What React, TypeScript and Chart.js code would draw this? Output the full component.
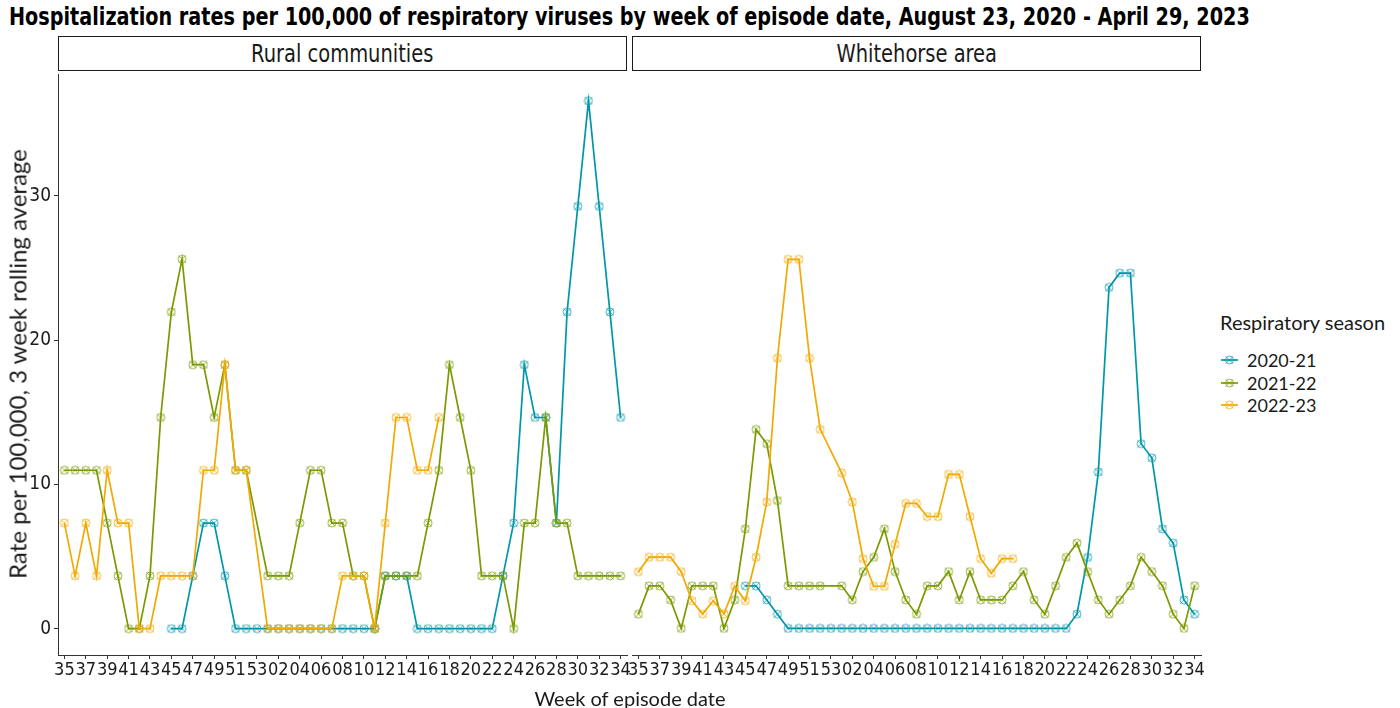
import React, { useEffect, useRef } from "react";
import { Chart, registerables } from "chart.js";

Chart.register(...registerables);

// ---------- data ----------
const WEEKS = [
  "35", "36", "37", "38", "39", "40", "41", "42", "43", "44", "45", "46", "47", "48", "49", "50", "51", "52", "53",
  "01", "02", "03", "04", "05", "06", "07", "08", "09", "10", "11", "12", "13", "14", "15", "16", "17", "18", "19",
  "20", "21", "22", "23", "24", "25", "26", "27", "28", "29", "30", "31", "32", "33", "34",
];
const X_TICK_LABELS = [
  "35", "37", "39", "41", "43", "45", "47", "49", "51", "53", "02", "04", "06", "08",
  "10", "12", "14", "16", "18", "20", "22", "24", "26", "28", "30", "32", "34",
];
const Y_TICKS = [0, 10, 20, 30];
const SEASONS = ["2020-21", "2021-22", "2022-23"];
const COLORS = ["#0097A9", "#7A9A01", "#F2A900"];
const PANELS = ["Rural communities", "Whitehorse area"];

const N = null;

const RURAL_2020_21 = [
  N, N, N, N, N, N, N, N, N, N,
  0, 0, 3.66, 7.32, 7.32, 3.66, 0, 0, 0,
  0, 0, 0, 0, 0, 0, 0, 0, 0, 0, 0,
  3.66, 3.66, 3.66,
  0, 0, 0, 0, 0, 0, 0, 0,
  3.66, 7.32, 18.3, 14.64, 14.64, 7.32, 21.96, 29.28, 36.6, 29.28, 21.96, 14.64,
];
const RURAL_2021_22 = [
  10.98, 10.98, 10.98, 10.98, 7.32, 3.66, 0, 0, 3.66, 14.64,
  21.96, 25.62, 18.3, 18.3, 14.64, 18.3, 10.98, 10.98, N,
  3.66, 3.66, 3.66, 7.32, 10.98, 10.98, 7.32, 7.32, 3.66, 3.66,
  0, 3.66, 3.66, 3.66, 3.66, 7.32, 10.98, 18.3, 14.64, 10.98,
  3.66, 3.66, 3.66, 0, 7.32, 7.32, 14.64, 7.32, 7.32,
  3.66, 3.66, 3.66, 3.66, 3.66,
];
const RURAL_2022_23 = [
  7.32, 3.66, 7.32, 3.66, 10.98, 7.32, 7.32, 0, 0, 3.66,
  3.66, 3.66, 3.66, 10.98, 10.98, 18.3, 10.98, 10.98, N,
  0, 0, 0, 0, 0, 0, 0, 3.66, 3.66, 3.66,
  0, 7.32, 14.64, 14.64, 10.98, 10.98, 14.64,
  N, N, N, N, N, N, N, N, N, N, N, N, N, N, N, N, N,
];
const WH_2020_21 = [
  N, N, N, N, N, N, N, N, N, N,
  2.93, 2.93, 1.96, 0.98, 0, 0, 0, 0, 0,
  0, 0, 0, 0, 0, 0, 0, 0, 0, 0, 0, 0, 0, 0, 0, 0, 0, 0, 0, 0, 0, 0,
  0.98, 4.89, 10.76, 23.47, 24.45, 24.45, 12.71, 11.74, 6.85, 5.87, 1.96, 0.98,
];
const WH_2021_22 = [
  0.98, 2.93, 2.93, 1.96, 0, 2.93, 2.93, 2.93, 0, 1.96,
  6.85, 13.69, 12.71, 8.8, 2.93, 2.93, 2.93, 2.93, N,
  2.93, 1.96, 3.91, 4.89, 6.85, 3.91, 1.96, 0.98, 2.93, 2.93,
  3.91, 1.96, 3.91, 1.96, 1.96, 1.96, 2.93, 3.91, 1.96, 0.98,
  2.93, 4.89, 5.87, 3.91, 1.96, 0.98, 1.96, 2.93, 4.89, 3.91,
  2.93, 0.98, 0, 2.93,
];
const WH_2022_23 = [
  3.9, 4.9, 4.9, 4.9, 3.9, 1.9, 1.0, 1.9, 1.0, 2.9,
  1.9, 4.9, 8.7, 18.6, 25.4, 25.4, 18.6, 13.7, N,
  10.7, 8.7, 4.8, 2.9, 2.9, 5.8, 8.6, 8.6, 7.7, 7.7,
  10.6, 10.6, 7.7, 4.8, 3.8, 4.8, 4.8,
  N, N, N, N, N, N, N, N, N, N, N, N, N, N, N, N, N,
];

const RURAL = [RURAL_2020_21, RURAL_2021_22, RURAL_2022_23];
const WHITEHORSE = [WH_2020_21, WH_2021_22, WH_2022_23];

// ---------- style ----------
const COND = '"DejaVu Sans Condensed", "DejaVu Sans", sans-serif';
const SANS = 'Lato, "Noto Sans", sans-serif';
const TEXT = "#1a1a1a";
const AXIS = "#333333";
const Y_MIN = -1.83;
const Y_MAX = 38.43;

function makeMarker(color: string): HTMLCanvasElement {
  const c = document.createElement("canvas");
  c.width = 10;
  c.height = 10;
  const ctx = c.getContext("2d")!;
  ctx.strokeStyle = color;
  ctx.globalAlpha = 0.7;
  ctx.lineWidth = 1;
  ctx.beginPath();
  ctx.arc(5, 5, 4, 0, Math.PI * 2);
  ctx.stroke();
  ctx.beginPath();
  ctx.moveTo(1.5, 1.5);
  ctx.lineTo(8.5, 8.5);
  ctx.moveTo(8.5, 1.5);
  ctx.lineTo(1.5, 8.5);
  ctx.stroke();
  return c;
}

type PanelProps = {
  series: (number | null)[][];
  showY: boolean;
  left: number;
  width: number;
  padLeft: number;
  padRight: number;
};

function Panel({ series, showY, left, width, padLeft, padRight }: PanelProps) {
  const ref = useRef<HTMLCanvasElement>(null);
  useEffect(() => {
    const markers = COLORS.map(makeMarker);
    const chart = new Chart(ref.current!, {
      type: "line",
      data: {
        datasets: SEASONS.map((s, k) => ({
          label: s,
          data: series[k]
            .map((v, i) => ({ x: i, y: v }))
            .filter((p) => p.y !== null) as any,
          borderColor: COLORS[k],
          backgroundColor: COLORS[k],
          borderWidth: 1.7,
          pointStyle: markers[k] as any,
          pointRadius: 4,
          pointHoverRadius: 4,
          tension: 0,
          fill: false,
          clip: false as any,
          order: 2 - k,
        })),
      },
      options: {
        animation: false,
        responsive: false,
        maintainAspectRatio: false,
        events: [],
        layout: {
          padding: { top: 10, right: padRight, left: padLeft, bottom: 0 },
          autoPadding: false,
        } as any,
        plugins: { legend: { display: false }, tooltip: { enabled: false } },
        scales: {
          x: {
            type: "linear",
            min: -0.6,
            max: 52.6,
            afterBuildTicks: (scale: any) => {
              scale.ticks = X_TICK_LABELS.map((l) => ({ value: WEEKS.indexOf(l) }));
            },
            afterFit: (scale: any) => {
              scale.height = 45;
            },
            ticks: {
              autoSkip: false,
              maxRotation: 0,
              minRotation: 0,
              padding: 1,
              color: TEXT,
              font: { family: COND, size: 18 },
              callback: (v: any) => WEEKS[Math.round(Number(v))],
            },
            grid: { display: true, drawOnChartArea: false, drawTicks: true, tickLength: 4, color: AXIS },
            border: { display: true, color: AXIS, width: 1 },
          },
          y: {
            type: "linear",
            display: showY,
            min: Y_MIN,
            max: Y_MAX,
            afterBuildTicks: (scale: any) => {
              scale.ticks = Y_TICKS.map((v) => ({ value: v }));
            },
            afterFit: (scale: any) => {
              if (showY) scale.width = 58 - padLeft;
            },
            ticks: {
              padding: 3,
              color: TEXT,
              font: { family: COND, size: 19 },
              callback: (v: any) => String(v),
            },
            grid: { display: true, drawOnChartArea: false, drawTicks: true, tickLength: 4, color: AXIS },
            border: { display: true, color: AXIS, width: 1 },
          },
        },
      } as any,
    });
    return () => chart.destroy();
  }, []);
  return (
    <canvas
      ref={ref}
      width={width}
      height={640}
      style={{ position: "absolute", left, top: 60, width, height: 640 }}
    />
  );
}

function Strip({ left, label }: { left: number; label: string }) {
  return (
    <div
      style={{
        position: "absolute",
        left,
        top: 36,
        width: 569,
        height: 35,
        boxSizing: "border-box",
        border: "1.5px solid #1a1a1a",
        fontFamily: COND,
        fontSize: 25,
        color: TEXT,
        display: "flex",
        alignItems: "center",
        justifyContent: "center",
        whiteSpace: "nowrap",
      }}
    >
      <span style={{ display: "inline-block", transform: "scaleX(0.866)" }}>{label}</span>
    </div>
  );
}

function LegendKey({ color }: { color: string }) {
  return (
    <svg width={20} height={20} style={{ display: "block" }}>
      <line x1={1} y1={10} x2={18} y2={10} stroke={color} strokeWidth={1.7} />
      <g stroke={color} strokeOpacity={0.7} strokeWidth={1} fill="none">
        <circle cx={9.5} cy={10} r={4} />
        <line x1={6} y1={6.5} x2={13} y2={13.5} />
        <line x1={13} y1={6.5} x2={6} y2={13.5} />
      </g>
    </svg>
  );
}

export default function App() {
  return (
    <div
      style={{
        position: "fixed",
        left: 0,
        top: 0,
        width: 1400,
        height: 708,
        overflow: "hidden",
        background: "#ffffff",
      }}
    >
      <div
        style={{
          position: "absolute",
          left: 9,
          top: 2.5,
          fontFamily: COND,
          fontWeight: "bold",
          fontSize: 24,
          lineHeight: "28px",
          color: "#000",
          whiteSpace: "nowrap",
          transform: "scaleX(0.89)",
          transformOrigin: "left center",
        }}
      >
        Hospitalization rates per 100,000 of respiratory viruses by week of episode date, August 23, 2020 - April 29, 2023
      </div>

      <Strip left={58} label={PANELS[0]} />
      <Strip left={632} label={PANELS[1]} />

      <Panel series={RURAL} showY={true} left={0} width={632} padLeft={0} padRight={5} />
      <Panel series={WHITEHORSE} showY={false} left={627} width={579} padLeft={5} padRight={5} />

      <div
        style={{
          position: "absolute",
          left: 17,
          top: 364,
          transform: "translate(-50%, -50%) rotate(-90deg)",
          fontFamily: SANS,
          fontSize: 24,
          color: TEXT,
          whiteSpace: "nowrap",
        }}
      >
        Rate per 100,000, 3 week rolling average
      </div>

      <div
        style={{
          position: "absolute",
          left: 630,
          top: 686,
          transform: "translateX(-50%)",
          fontFamily: SANS,
          fontSize: 20,
          lineHeight: "24px",
          color: TEXT,
          whiteSpace: "nowrap",
        }}
      >
        Week of episode date
      </div>

      <div style={{ position: "absolute", left: 1220, top: 309, fontFamily: SANS, color: TEXT }}>
        <div style={{ fontSize: 20, lineHeight: "26px", whiteSpace: "nowrap" }}>Respiratory season</div>
        <div style={{ height: 14 }} />
        {SEASONS.map((s, k) => (
          <div key={s} style={{ display: "flex", alignItems: "center", height: 22.5 }}>
            <LegendKey color={COLORS[k]} />
            <span style={{ marginLeft: 7, fontSize: 18, whiteSpace: "nowrap" }}>{s}</span>
          </div>
        ))}
      </div>
    </div>
  );
}
